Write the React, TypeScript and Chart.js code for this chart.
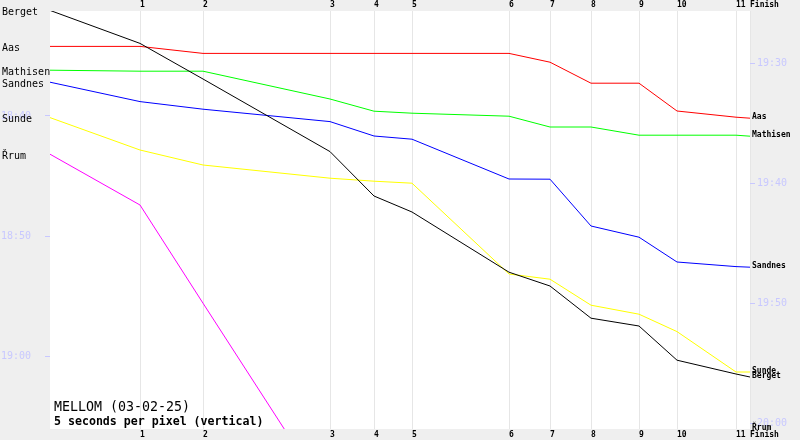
import React, { useEffect, useRef } from 'react';
import { Chart, registerables } from 'chart.js';

Chart.register(...registerables);

// x = leader-based reference time (units along the horizontal axis), start + controls + finish
const controlPositions = [0, 90, 153, 280, 324, 362, 459, 500, 541, 589, 627, 686, 700];
const controlLabels = ['1', '2', '3', '4', '5', '6', '7', '8', '9', '10', '11', 'Finish'];

const runners = ['Berget', 'Aas', 'Mathisen', 'Sandnes', 'Sunde', 'Řrum'];
const runnerColors = ['#000000', '#ff0000', '#00ff00', '#0000ff', '#ffff00', '#ff00ff'];

// y = seconds after 18:00 on the left-axis clock
const berget = [1872, 2037, 2215, 2578, 2800, 2880, 3181, 3250, 3411, 3450, 3621, 3690, 3705];
const aas = [2052, 2052, 2087, 2087, 2087, 2087, 2087, 2131, 2236, 2236, 2375, 2406, 2411];
const mathisen = [2171, 2176, 2176, 2315, 2376, 2386, 2401, 2455, 2455, 2496, 2496, 2496, 2501];
const sandnes = [2231, 2328, 2366, 2428, 2500, 2516, 2715, 2716, 2950, 3006, 3130, 3153, 3156];
const sunde = [2408, 2570, 2645, 2711, 2726, 2736, 3190, 3216, 3346, 3391, 3478, 3680, 3680];
const rrum = [2591, 2845, 3336, 4319, 4450, 4560, 4800, 4900, 5000, 5120, 5210, 5350, 5380];
const series = [berget, aas, mathisen, sandnes, sunde, rrum];

const leftTickLabels = ['18:40', '18:50', '19:00'];
const rightTickLabels = ['19:30', '19:40', '19:50', '20:00'];

const titleText = 'MELLOM (03-02-25)';
const subtitleText = '5 seconds per pixel (vertical)';

const LEFT_MIN = 1875;
const LEFT_MAX = 3965;
const RIGHT_MIN = 5138.5;
const RIGHT_MAX = 7228.5;

const toSec = (s: string) => {
  const [h, m] = s.split(':').map(Number);
  return h * 3600 + m * 60 - 18 * 3600;
};
const fmt = (v: number) => {
  const t = Math.round(v + 18 * 3600);
  const h = Math.floor(t / 3600);
  const m = Math.floor((t % 3600) / 60);
  return `${h}:${String(m).padStart(2, '0')}`;
};

const MONO = '"DejaVu Sans Mono", monospace';

const resetPadding = (scale: any) => {
  scale.paddingTop = 0;
  scale.paddingBottom = 0;
  scale.paddingLeft = 0;
  scale.paddingRight = 0;
};

const bgPlugin = {
  id: 'bgPlugin',
  beforeDraw(chart: any) {
    const { ctx, chartArea: a, width, height } = chart;
    ctx.save();
    ctx.fillStyle = '#efefef';
    ctx.fillRect(0, 0, width, height);
    ctx.fillStyle = '#ffffff';
    ctx.fillRect(a.left, a.top, a.right - a.left, a.bottom - a.top);
    ctx.restore();
  },
};

const namesPlugin = {
  id: 'namesPlugin',
  afterDraw(chart: any) {
    const { ctx, chartArea: a } = chart;
    const ys = chart.scales.y;
    ctx.save();
    ctx.fillStyle = '#000000';
    ctx.textBaseline = 'middle';
    ctx.textAlign = 'left';
    ctx.font = `10px ${MONO}`;
    series.forEach((vals, i) => {
      const y = ys.getPixelForValue(vals[0]) + 2;
      ctx.fillText(runners[i], 2, y);
    });
    ctx.font = `bold 8px ${MONO}`;
    series.forEach((vals, i) => {
      let y = ys.getPixelForValue(vals[vals.length - 1]) - 1;
      if (y > a.bottom - 1) y = a.bottom - 1;
      ctx.fillText(runners[i], a.right + 2, y);
    });
    ctx.font = `13.3px ${MONO}`;
    ctx.fillText(titleText, a.left + 4, 408);
    ctx.font = `bold 11.6px ${MONO}`;
    ctx.fillText(subtitleText, a.left + 4, 422);
    ctx.restore();
  },
};

export default function App() {
  const ref = useRef<HTMLCanvasElement | null>(null);

  useEffect(() => {
    document.body.style.margin = '0';
    const canvas = ref.current;
    if (!canvas) return;

    const xTicks = controlPositions.slice(1);
    const xAxisBase = (position: 'top' | 'bottom', grid: boolean) => ({
      type: 'linear' as const,
      position,
      min: 0,
      max: 700,
      afterBuildTicks: (scale: any) => {
        scale.ticks = xTicks.map((v) => ({ value: v }));
      },
      afterFit: (scale: any) => {
        scale.height = 11;
        resetPadding(scale);
      },
      border: { display: false },
      grid: {
        display: grid,
        drawOnChartArea: grid,
        drawTicks: false,
        color: '#e6e6e6',
        lineWidth: 1,
      },
      ticks: {
        autoSkip: false,
        maxRotation: 0,
        minRotation: 0,
        align: 'start' as const,
        padding: 1,
        color: '#000000',
        font: { family: MONO, size: 8, weight: 'bold' as const },
        callback: (_v: any, i: number) => controlLabels[i],
      },
    });

    const yAxisBase = (position: 'left' | 'right', min: number, max: number, labels: string[], padding: number) => ({
      type: 'linear' as const,
      position,
      reverse: true,
      min,
      max,
      afterBuildTicks: (scale: any) => {
        scale.ticks = labels.map((l) => ({ value: toSec(l) }));
      },
      afterFit: (scale: any) => {
        scale.width = 50;
        resetPadding(scale);
      },
      border: { display: false },
      grid: {
        drawOnChartArea: false,
        drawTicks: true,
        tickLength: 5,
        tickColor: '#c8c8ff',
        color: '#c8c8ff',
      },
      ticks: {
        autoSkip: false,
        padding,
        color: '#c8c8ff',
        font: { family: MONO, size: 10 },
        callback: (v: any) => fmt(Number(v)),
      },
    });

    const chart = new Chart(canvas, {
      type: 'line',
      data: {
        datasets: series.map((vals, i) => ({
          label: runners[i],
          data: vals.map((v, j) => ({ x: controlPositions[j], y: v })),
          borderColor: runnerColors[i],
          backgroundColor: runnerColors[i],
          borderWidth: 1,
          pointRadius: 0,
          tension: 0,
          fill: false,
          xAxisID: 'x',
          yAxisID: 'y',
        })),
      },
      options: {
        responsive: false,
        animation: false,
        events: [],
        layout: { padding: 0 },
        plugins: {
          legend: { display: false },
          tooltip: { enabled: false },
          title: { display: false },
        },
        scales: {
          x: xAxisBase('top', true) as any,
          x2: xAxisBase('bottom', false) as any,
          y: yAxisBase('left', LEFT_MIN, LEFT_MAX, leftTickLabels, 14) as any,
          y2: yAxisBase('right', RIGHT_MIN, RIGHT_MAX, rightTickLabels, 2) as any,
        },
      },
      plugins: [bgPlugin, namesPlugin],
    });

    return () => chart.destroy();
  }, []);

  return <canvas ref={ref} width={800} height={440} style={{ display: 'block' }} />;
}
